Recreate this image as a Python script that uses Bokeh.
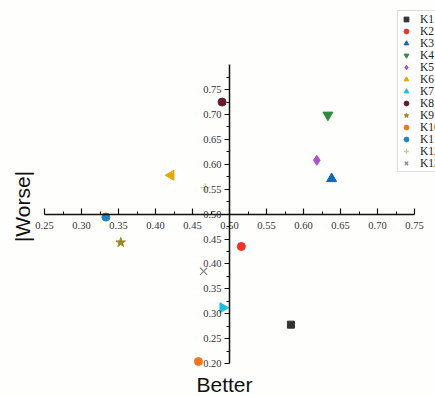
import numpy as np
from bokeh.plotting import figure
from bokeh.models import (Range1d, FixedTicker, PrintfTickFormatter, Label, Legend)
from bokeh.embed import file_html
from bokeh.resources import INLINE

categories = ["K1", "K2", "K3", "K4", "K5", "K6", "K7", "K8", "K9", "K10", "K11", "K12", "K13"]
better = [0.583, 0.516, 0.638, 0.633, 0.618, 0.421, 0.491, 0.490, 0.353, 0.458, 0.333, 0.467, 0.465]
worse = [0.278, 0.435, 0.571, 0.699, 0.608, 0.578, 0.312, 0.725, 0.443, 0.204, 0.494, 0.553, 0.385]
markers = ["square", "circle", "triangle", "inverted_triangle", "diamond", "triangle", "triangle",
           "circle", "star", "circle", "circle", "cross", "x"]
angles = [0, 0, 0, 0, 0, np.pi / 2, -np.pi / 2, 0, 0, 0, 0, 0, 0]
colors = ["#333333", "#f2302a", "#1565c0", "#2e8b3e", "#b04fd0", "#e8a800", "#18c0e0",
          "#6b1a2a", "#9a8820", "#f5731a", "#1a86c8", "#c5cc98", "#8a8a8a"]
sizes = [7, 8, 10, 10, 10, 10, 10, 8, 10, 8, 8, 9, 10]

x_ticks = [0.25, 0.30, 0.35, 0.40, 0.45, 0.50, 0.55, 0.60, 0.65, 0.70, 0.75]
x_minor = [0.275, 0.325, 0.375, 0.425, 0.475, 0.525, 0.575, 0.625, 0.675, 0.725]
y_ticks = [0.20, 0.25, 0.30, 0.35, 0.40, 0.45, 0.50, 0.55, 0.60, 0.65, 0.70, 0.75]
y_minor = [0.225, 0.275, 0.325, 0.375, 0.425, 0.475, 0.525, 0.575, 0.625, 0.675, 0.725, 0.775]

W, H = 435, 396
xs_px, ys_px = 740.0, 498.0
x0 = 0.25 - 44 / xs_px
y0 = 0.2 - (H - 363) / ys_px

p = figure(width=W, height=H, output_backend="svg", toolbar_location=None,
           x_range=Range1d(x0, x0 + W / xs_px), y_range=Range1d(y0, y0 + H / ys_px),
           min_border=0, background_fill_color="#fefefd", border_fill_color="#fefefd")
p.outline_line_color = None
p.grid.visible = False

for ax, ticks, minor in ((p.xaxis[0], x_ticks, x_minor), (p.yaxis[0], y_ticks, y_minor)):
    ax.fixed_location = 0.5
    ax.ticker = FixedTicker(ticks=ticks, minor_ticks=minor)
    ax.formatter = PrintfTickFormatter(format="%.2f")
    ax.axis_line_color = "#111111"
    ax.axis_line_width = 1.5
    ax.major_tick_line_color = "#111111"
    ax.minor_tick_line_color = "#111111"
    ax.major_tick_line_width = 1.2
    ax.major_label_text_font = "Liberation Serif"
    ax.major_label_text_font_size = "10.5px"
    ax.major_label_text_color = "#333333"

p.xaxis.bounds = (0.25, 0.75)
p.xaxis.major_tick_in = 6
p.xaxis.major_tick_out = 0
p.xaxis.minor_tick_in = 3
p.xaxis.minor_tick_out = 0
p.xaxis.major_label_standoff = 8

p.yaxis.bounds = (0.2, 0.8)
p.yaxis.major_tick_in = 0
p.yaxis.major_tick_out = 5
p.yaxis.minor_tick_in = 0
p.yaxis.minor_tick_out = 3
p.yaxis.major_label_standoff = 3

items = []
for i, k in enumerate(categories):
    r = p.scatter([better[i]], [worse[i]], marker=markers[i], size=sizes[i],
                  angle=angles[i], fill_color=colors[i], line_color=colors[i],
                  line_width=1.3 if markers[i] in ("cross", "x") else 1)
    items.append((k, [r]))

legend = Legend(items=items, location=(397, H - 172), margin=0, padding=2, spacing=0,
                label_height=12, glyph_height=12, glyph_width=12, label_standoff=8,
                label_text_font="Liberation Serif", label_text_font_size="11.5px",
                label_text_color="#222222", border_line_color="#bbbbbb",
                background_fill_color="#ffffff", background_fill_alpha=1.0)
p.add_layout(legend)

p.add_layout(Label(x=0.25 + (224 - 44) / xs_px, y=0.2 + (363 - 384) / ys_px, text="Better",
                   text_font="Liberation Sans", text_font_size="21px", text_color="#111111",
                   text_align="center", text_baseline="middle"))
p.add_layout(Label(x=0.25 + (22 - 44) / xs_px, y=0.2 + (363 - 206) / ys_px, text="|Worse|",
                   angle=np.pi / 2, text_font="Liberation Sans", text_font_size="21px",
                   text_color="#111111", text_align="center", text_baseline="middle"))

open("out.html", "w").write(file_html(p, INLINE))
